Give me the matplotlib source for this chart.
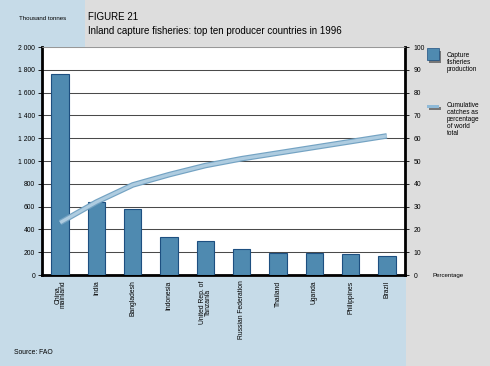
import numpy as np
import matplotlib
matplotlib.use("Agg")
import matplotlib.pyplot as plt
from matplotlib.patches import Rectangle

plt.rcParams['font.family'] = ['Liberation Sans', 'DejaVu Sans']

# data
countries = ["China,\nmainland", "India", "Bangladesh", "Indonesia",
             "United Rep. of\nTanzania", "Russian Federation", "Thailand",
             "Uganda", "Philippines", "Brazil"]
production = [1760, 640, 580, 335, 300, 225, 195, 190, 180, 170]
cumulative_pct = [23, 32, 39.5, 44, 48, 51, 53.5, 56, 58.5, 61]
left_ticks = [0, 200, 400, 600, 800, 1000, 1200, 1400, 1600, 1800, 2000]
left_labels = ["0", "200", "400", "600", "800", "1 000", "1 200", "1 400",
               "1 600", "1 800", "2 000"]
right_ticks = list(range(0, 101, 10))

W, H = 490, 366
blue_bg = '#c6dbe8'
grey_bg = '#dddddd'
bar_col = '#4f8ab0'
bar_edge = '#1d4f80'

fig = plt.figure(figsize=(W / 100, H / 100), dpi=100, facecolor=grey_bg)

# background panels
fig.patches.append(Rectangle((0, 0), 85 / W, 1, transform=fig.transFigure,
                             facecolor=blue_bg, edgecolor='none', zorder=0))
fig.patches.append(Rectangle((0, 0), 406 / W, (H - 277) / H, transform=fig.transFigure,
                             facecolor=blue_bg, edgecolor='none', zorder=0))

# main axes (pixel box)
x0, x1, y0, y1 = 42, 405, 47, 275
ax = fig.add_axes([x0 / W, (H - y1) / H, (x1 - x0) / W, (y1 - y0) / H])
ax.set_zorder(2)
ax.set_facecolor('white')

x = np.arange(len(countries))
ax.bar(x, production, width=0.48, color=bar_col, edgecolor=bar_edge,
       linewidth=0.8, zorder=3)
ax.set_xlim(-0.5, len(countries) - 0.5)
ax.set_ylim(0, 2000)
ax.set_yticks(left_ticks)
ax.set_yticklabels(left_labels)
ax.yaxis.grid(True, color='#4a4a4a', linewidth=0.75, zorder=1)
ax.set_axisbelow(True)
ax.tick_params(axis='y', labelsize=4.9, length=3, width=0.6, pad=2)
ax.set_xticks(x)
ax.set_xticklabels(countries, rotation=90, fontsize=4.9, va='top',
                   ha='center', linespacing=0.9)
ax.tick_params(axis='x', length=0, pad=4)
for s in ['left', 'right', 'bottom']:
    ax.spines[s].set_linewidth(2)
    ax.spines[s].set_color('black')
ax.spines['top'].set_linewidth(0.5)
ax.spines['top'].set_color('#bbbbbb')

ax2 = ax.twinx()
ax2.set_zorder(3)
ax2.patch.set_visible(False)
ax2.set_ylim(0, 100)
ax2.set_yticks(right_ticks)
ax2.tick_params(axis='y', labelsize=4.9, length=3, width=0.6, pad=3)
for s in ax2.spines.values():
    s.set_visible(False)
ax2.plot(x, cumulative_pct, color='#74a3c3', linewidth=4.0,
         solid_capstyle='butt', zorder=4)
ax2.plot(x, cumulative_pct, color='#aecce0', linewidth=2.3,
         solid_capstyle='butt', zorder=5)

# titles and notes
fig.text(88 / W, 1 - 20 / H, "FIGURE 21", fontsize=7.0, va='baseline')
fig.text(88 / W, 1 - 34 / H,
         "Inland capture fisheries: top ten producer countries in 1996",
         fontsize=7.0, va='baseline')
fig.text(43 / W, 1 - 19 / H, "Thousand tonnes", fontsize=4.4, ha='center',
         va='center')
fig.text(14 / W, 1 - 352 / H, "Source: FAO", fontsize=4.9, va='center')
fig.text(432 / W, 1 - 275 / H, "Percentage", fontsize=4.4, va='center')

# legend
fig.patches.append(Rectangle((429 / W, 1 - 63 / H), 12 / W, 12 / H,
                             transform=fig.transFigure, facecolor='#777777',
                             edgecolor='none'))
fig.patches.append(Rectangle((427 / W, 1 - 60 / H), 12 / W, 12 / H,
                             transform=fig.transFigure, facecolor=bar_col,
                             edgecolor=bar_edge, linewidth=0.5))
fig.text(447 / W, 1 - 52 / H, "Capture\nfisheries\nproduction", fontsize=4.7,
         va='top', linespacing=1.0)
fig.patches.append(Rectangle((429 / W, 1 - 110 / H), 12 / W, 3 / H,
                             transform=fig.transFigure, facecolor='#777777',
                             edgecolor='none'))
fig.patches.append(Rectangle((427 / W, 1 - 108 / H), 12 / W, 3 / H,
                             transform=fig.transFigure, facecolor='#8fbad8',
                             edgecolor='none'))
fig.text(447 / W, 1 - 102 / H,
         "Cumulative\ncatches as\npercentage\nof world\ntotal", fontsize=4.7,
         va='top', linespacing=1.0)

fig.savefig("out.png", dpi=100, facecolor=fig.get_facecolor())
